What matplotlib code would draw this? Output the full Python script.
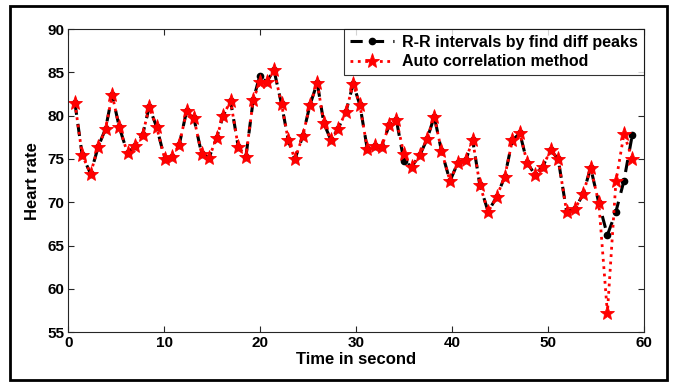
import matplotlib
matplotlib.use("Agg")
import matplotlib.pyplot as plt
from matplotlib.patches import Rectangle

# time stamps (s) of each detected beat
time_s = [0.68, 1.44, 2.31, 3.11, 3.88, 4.57, 5.30, 6.17, 6.93, 7.74,
          8.43, 9.20, 10.06, 10.80, 11.55, 12.32, 13.09, 13.89, 14.65, 15.45,
          16.14, 16.91, 17.71, 18.51, 19.27, 19.95, 20.66, 21.43, 22.23, 22.92,
          23.62, 24.42, 25.18, 25.95, 26.64, 27.37, 28.13, 28.94, 29.70, 30.40,
          31.16, 31.96, 32.66, 33.45, 34.20, 34.98, 35.78, 36.65, 37.40, 38.15,
          38.90, 39.79, 40.58, 41.45, 42.15, 42.90, 43.77, 44.64, 45.50, 46.30,
          47.08, 47.84, 48.64, 49.45, 50.28, 51.07, 51.95, 52.80, 53.68, 54.45,
          55.31, 56.20, 57.09, 57.93, 58.80]

# heart rate from R-R intervals (find diff peaks)
hr_rr = [81.5, 75.45, 73.3, 76.4, 78.5, 82.4, 78.7, 75.65, 76.5, 77.8,
         81.0, 78.7, 74.95, 75.25, 76.6, 80.5, 79.7, 75.6, 75.1, 77.4,
         80.0, 81.7, 76.4, 75.25, 81.8, 84.6, 83.85, 85.3, 81.3, 77.2,
         74.95, 77.6, 81.2, 83.8, 79.1, 77.2, 78.5, 80.45, 83.7, 81.2,
         76.2, 76.5, 76.4, 78.9, 79.5, 74.8, 74.1, 75.45, 77.3, 79.9,
         75.95, 72.45, 74.5, 74.9, 77.2, 72.0, 68.9, 70.6, 72.95, 77.2,
         77.95, 74.55, 73.2, 74.1, 76.0, 75.0, 68.9, 69.2, 70.95, 74.0,
         69.9, 66.2, 68.9, 72.5, 77.8]

# heart rate from auto correlation
hr_ac = [81.5, 75.45, 73.3, 76.4, 78.5, 82.4, 78.7, 75.65, 76.5, 77.8,
         81.0, 78.7, 74.95, 75.25, 76.6, 80.5, 79.7, 75.6, 75.1, 77.4,
         80.0, 81.7, 76.4, 75.25, 81.8, 83.9, 83.85, 85.3, 81.3, 77.2,
         74.95, 77.6, 81.2, 83.8, 79.1, 77.2, 78.5, 80.45, 83.7, 81.2,
         76.2, 76.5, 76.4, 78.9, 79.5, 75.6, 74.1, 75.45, 77.3, 79.9,
         75.95, 72.45, 74.5, 74.9, 77.2, 72.0, 68.9, 70.6, 72.95, 77.2,
         77.95, 74.55, 73.2, 74.1, 76.0, 75.0, 68.9, 69.2, 70.95, 74.0,
         69.9, 57.2, 72.4, 77.9, 75.0]

plt.rcParams['font.family'] = ['Liberation Sans', 'DejaVu Sans']
plt.rcParams['font.weight'] = 'bold'

fig = plt.figure(figsize=(6.77, 3.83), dpi=100)
ax = fig.add_axes([0.101, 0.133, 0.850, 0.791])

ax.plot(time_s, hr_rr, color='black', linestyle='--', linewidth=2.2,
        marker='.', markersize=9, dashes=(4, 3),
        label='R-R intervals by find diff peaks')
ax.plot(time_s, hr_ac, color='red', linestyle=':', linewidth=2,
        marker='*', markersize=11, markeredgecolor='red',
        markeredgewidth=0.6, label='Auto correlation method')

ax.set_xlim(0, 60)
ax.set_ylim(55, 90)
ax.set_xticks(range(0, 61, 10))
ax.set_yticks(range(55, 91, 5))
ax.tick_params(direction='in', top=True, right=True, length=4,
               labelsize=11, color='#262626', pad=3)
for s in ax.spines.values():
    s.set_color('#262626')
    s.set_linewidth(0.8)
for lab in ax.get_xticklabels() + ax.get_yticklabels():
    lab.set_fontweight('bold')

ax.set_xlabel('Time in second', fontsize=12, fontweight='bold', labelpad=1)
ax.set_ylabel('Heart rate', fontsize=12, fontweight='bold', labelpad=5)

leg = ax.legend(loc='upper right', frameon=True, fancybox=False,
                borderaxespad=0.0, handlelength=2.8, handletextpad=0.5,
                borderpad=0.35, labelspacing=0.3,
                prop={'weight': 'bold', 'size': 11.5})
leg.get_frame().set_edgecolor('black')
leg.get_frame().set_linewidth(0.8)

# outer frame around the whole picture
fig.patches.append(Rectangle((10 / 677, 3 / 383), 657 / 677, 374 / 383,
                             transform=fig.transFigure, fill=False,
                             edgecolor='black', linewidth=2))

fig.savefig('out.png', dpi=100)
